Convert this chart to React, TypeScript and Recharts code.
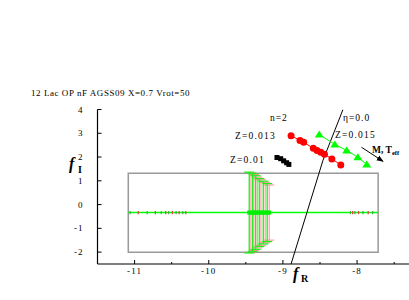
import { ComposedChart, Scatter, XAxis, YAxis, ReferenceArea, ReferenceLine, ErrorBar } from 'recharts'

// main sequences (f_R, f_I)
const z013X = [-8.89, -8.77, -8.72, -8.59, -8.54, -8.49, -8.44, -8.34, -8.22]
const z013Y = [2.9, 2.7, 2.62, 2.37, 2.28, 2.2, 2.12, 1.92, 1.67]
const z015X = [-8.51, -8.3, -8.14, -7.99, -7.87]
const z015Y = [2.95, 2.53, 2.28, 1.99, 1.69]
const z010X = [-9.08, -9.03, -8.99, -8.95, -8.92]
const z010Y = [1.98, 1.93, 1.84, 1.76, 1.69]
const etaX = [-8.19, -8.46, -8.89]
const etaY = [4, 1.86, -2.5]
const arrowX = [-7.94, -7.65]
const arrowY = [2.41, 1.82]

// inset panel
const insetBox = { x1: -11.085, x2: -7.716, y1: -2.01, y2: 1.32 }
const insetLevel = -0.336
const barX = [-9.454, -9.431, -9.408, -9.391, -9.368, -9.346, -9.319, -9.296, -9.265, -9.239, -9.212, -9.185]
const barErr = [1.7, 1.68, 1.64, 1.6, 1.55, 1.49, 1.43, 1.38, 1.32, 1.27, 1.22, 1.16]
const leftTickX = [-11.06, -10.95, -10.83, -10.72, -10.64, -10.58, -10.54, -10.49, -10.44, -10.4, -10.35, -10.31]
const rightTickX = [-8.09, -8.06, -8.03, -7.98, -7.92, -7.85, -7.79]

const xTicks = [-11, -10.5, -10, -9.5, -9, -8.5, -8, -7.5]
const yTicks = [-2, -1.5, -1, -0.5, 0, 0.5, 1, 1.5, 2, 2.5, 3, 3.5, 4]

const zip = (xs: number[], ys: number[]) => xs.map((x, i) => ({ x, y: ys[i] }))

const z013 = zip(z013X, z013Y)
const z015 = zip(z015X, z015Y)
const z010 = zip(z010X, z010Y)
const eta = zip(etaX, etaY)
const bars = barX.map((x, i) => ({ x, y: insetLevel, err: barErr[i] }))
const barsGreen = bars.filter((_, i) => i % 2 === 0)
const barsRed = bars.filter((_, i) => i % 2 === 1)
const smallTicks = [...leftTickX, ...rightTickX].map(x => ({ x, y: insetLevel, err: 0.07 }))
const smallGreen = smallTicks.filter((_, i) => i % 2 === 0)
const smallRed = smallTicks.filter((_, i) => i % 2 === 1)

const serif = "'Liberation Serif', 'Times New Roman', serif"

const XTick = (props: any) => {
  const { x, y, payload } = props
  const major = Number.isInteger(payload.value)
  return (
    <g>
      <line x1={x} y1={y} x2={x} y2={y - (major ? 4 : 2)} stroke="#000" />
      {major && (
        <text x={x} y={y + 10} textAnchor="middle" fontFamily={serif} fontSize={9} letterSpacing={1.2} fill="#000">
          {String(payload.value)}
        </text>
      )}
    </g>
  )
}

const TopTick = (props: any) => {
  const { x, y, payload } = props
  const major = Number.isInteger(payload.value)
  return <line x1={x} y1={y} x2={x} y2={y + (major ? 4 : 2)} stroke="#000" />
}

const YTick = (props: any) => {
  const { x, y, payload } = props
  const major = Number.isInteger(payload.value)
  return (
    <g>
      <line x1={x} y1={y} x2={x + (major ? 4 : 2)} y2={y} stroke="#000" />
      {major && (
        <text x={x - 14} y={y + 3} textAnchor="end" fontFamily={serif} fontSize={9} letterSpacing={1} fill="#000">
          {String(payload.value)}
        </text>
      )}
    </g>
  )
}

const Nothing = () => <g />

const Triangle = (props: any) => {
  const { cx, cy } = props
  return <polygon points={`${cx - 4.5},${cy + 3} ${cx + 4.5},${cy + 3} ${cx},${cy - 4}`} fill="#00ff00" />
}

const Square = (props: any) => {
  const { cx, cy } = props
  return <rect x={cx - 2.5} y={cy - 2.5} width={5} height={5} fill="#000" />
}

const Dot = (props: any) => {
  const { cx, cy } = props
  return <circle cx={cx} cy={cy} r={3.5} fill="#ff0000" />
}

const BarCenter = (props: any) => {
  const { cx, cy } = props
  return <rect x={cx - 2} y={cy - 2} width={4} height={4} fill="#00ee00" />
}

export default function App() {
  return (
    <div style={{ position: 'absolute', left: 0, top: 0, width: 409, height: 300, background: '#fff' }}>
      <ComposedChart width={409} height={300} margin={{ top: 109.5, right: 0, bottom: 6, left: 57.5 }}>
        <defs>
          <marker id="arrowHead" viewBox="0 0 10 10" refX="9" refY="5" markerWidth="7" markerHeight="7" orient="auto">
            <path d="M0,1 L10,5 L0,9 z" fill="#000" />
          </marker>
        </defs>
        <XAxis
          type="number"
          dataKey="x"
          domain={[-11.5, -7.3]}
          allowDataOverflow
          ticks={xTicks}
          tick={XTick}
          tickLine={false}
          tickSize={0}
          tickMargin={0}
          height={30}
          axisLine={{ stroke: '#000', strokeWidth: 1.2 }}
        />
        <XAxis
          xAxisId="top"
          orientation="top"
          type="number"
          dataKey="x"
          domain={[-11.5, -7.3]}
          allowDataOverflow
          ticks={xTicks}
          tick={TopTick}
          tickLine={false}
          tickSize={0}
          tickMargin={0}
          height={0}
          axisLine={{ stroke: '#000', strokeWidth: 1.2 }}
        />
        <YAxis
          type="number"
          dataKey="y"
          domain={[-2.5, 4]}
          allowDataOverflow
          ticks={yTicks}
          tick={YTick}
          tickLine={false}
          tickSize={0}
          tickMargin={0}
          width={40}
          axisLine={{ stroke: '#000', strokeWidth: 1.2 }}
        />
        <ReferenceArea
          x1={insetBox.x1}
          x2={insetBox.x2}
          y1={insetBox.y1}
          y2={insetBox.y2}
          fill="none"
          stroke="#999"
          strokeWidth={1.5}
          fillOpacity={0}
        />
        <ReferenceLine
          segment={[{ x: insetBox.x1, y: insetLevel }, { x: insetBox.x2, y: insetLevel }]}
          stroke="#00ff00"
          strokeWidth={1.5}
        />
        <Scatter data={barsRed} shape={BarCenter} isAnimationActive={false}>
          <ErrorBar dataKey="err" direction="y" width={5} stroke="#ff7070" strokeWidth={0.8} isAnimationActive={false} />
        </Scatter>
        <Scatter data={barsGreen} shape={BarCenter} isAnimationActive={false}>
          <ErrorBar dataKey="err" direction="y" width={5} stroke="#22ee22" strokeWidth={1.3} isAnimationActive={false} />
        </Scatter>
        <Scatter data={smallGreen} shape={Nothing} isAnimationActive={false}>
          <ErrorBar dataKey="err" direction="y" width={0} stroke="#44aa44" strokeWidth={1.2} isAnimationActive={false} />
        </Scatter>
        <Scatter data={smallRed} shape={Nothing} isAnimationActive={false}>
          <ErrorBar dataKey="err" direction="y" width={0} stroke="#dd4444" strokeWidth={1.2} isAnimationActive={false} />
        </Scatter>
        <Scatter data={eta} shape={Nothing} line={{ stroke: '#000', strokeWidth: 1 }} isAnimationActive={false} />
        <ReferenceLine
          segment={[{ x: arrowX[0], y: arrowY[0] }, { x: arrowX[1], y: arrowY[1] }]}
          stroke="#000"
          strokeWidth={1}
          markerEnd="url(#arrowHead)"
        />
        <Scatter data={z010} shape={Square} line={{ stroke: '#000', strokeWidth: 1 }} isAnimationActive={false} />
        <Scatter data={z013} shape={Dot} line={{ stroke: '#ff0000', strokeWidth: 1 }} isAnimationActive={false} />
        <Scatter data={z015} shape={Triangle} line={{ stroke: '#00ff00', strokeWidth: 1 }} isAnimationActive={false} />
      </ComposedChart>
      <svg width={409} height={300} style={{ position: 'absolute', left: 0, top: 0, pointerEvents: 'none' }}>
        <g fontFamily={serif} fill="#000">
          <text x={31} y={96} fontSize={9} letterSpacing={0.55}>12 Lac OP nF AGSS09 X=0.7 Vrot=50</text>
          <text x={270} y={121} fontSize={9.5} letterSpacing={1}>n=2</text>
          <text x={343} y={121} fontSize={9.5} letterSpacing={1}>η=0.0</text>
          <text x={235} y={139} fontSize={9.5} letterSpacing={1.2}>Z=0.013</text>
          <text x={335} y={137.5} fontSize={9.5} letterSpacing={1.2}>Z=0.015</text>
          <text x={230} y={163} fontSize={9.5} letterSpacing={1.2}>Z=0.01</text>
          <text x={372} y={153} fontSize={9.5} fontWeight="bold">
            M, T<tspan fontSize={6.5} dy={2}>eff</tspan>
          </text>
          <text x={69} y={169} fontSize={16} fontStyle="italic" fontWeight="bold">f</text>
          <text x={78} y={173} fontSize={10} fontWeight="bold">I</text>
          <text x={293} y={279} fontSize={16} fontStyle="italic" fontWeight="bold">f</text>
          <text x={301} y={282} fontSize={10} fontWeight="bold">R</text>
        </g>
      </svg>
    </div>
  )
}
